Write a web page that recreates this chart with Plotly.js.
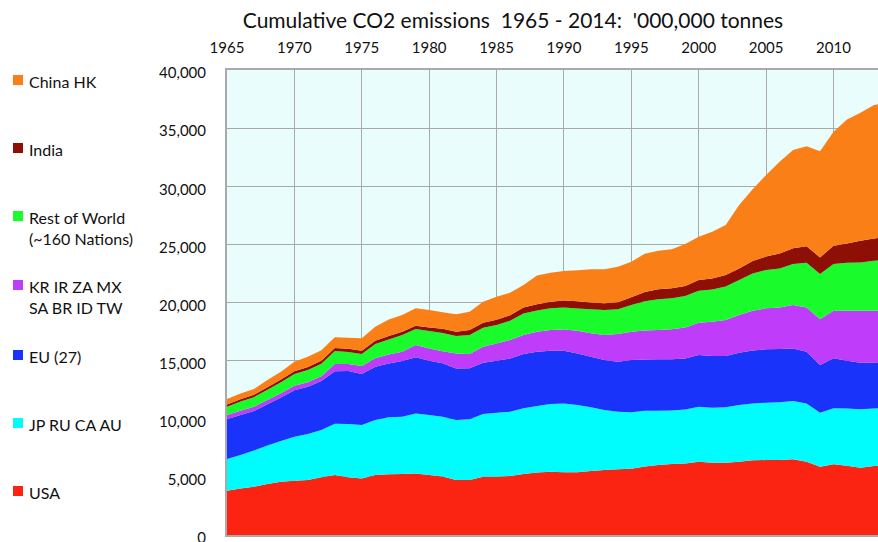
<!DOCTYPE html>
<html>
<head>
<meta charset="utf-8">
<script src="https://cdn.plot.ly/plotly-3.0.1.min.js"></script>
<style>html,body{margin:0;padding:0;background:#fff;}#chart{width:878px;height:542px;}</style>
</head>
<body>
<div id="chart"></div>
<script>
// ---- data ----
const years = [1965,1966,1967,1968,1969,1970,1971,1972,1973,1974,
  1975,1976,1977,1978,1979,1980,1981,1982,1983,1984,
  1985,1986,1987,1988,1989,1990,1991,1992,1993,1994,
  1995,1996,1997,1998,1999,2000,2001,2002,2003,2004,
  2005,2006,2007,2008,2009,2010,2011,2012,2013,2014];

const usa = [3810,4010,4160,4390,4590,4670,4730,4960,5160,4960,
  4870,5160,5220,5250,5300,5160,5040,4730,4730,5020,
  5020,5070,5250,5370,5450,5390,5390,5500,5590,5650,
  5700,5900,6020,6110,6160,6310,6220,6220,6310,6420,
  6450,6450,6510,6310,5880,6080,5960,5790,5930,6000];

const jpRuCaAu = [2730,2870,3100,3300,3500,3780,3960,4070,4420,4590,
  4590,4730,4900,4930,5160,5160,5140,5160,5220,5390,
  5500,5530,5650,5730,5820,5930,5790,5480,5160,4960,
  4850,4780,4670,4590,4640,4730,4730,4760,4870,4900,
  4930,4960,5010,5010,4640,4820,4930,5020,4960,4900];

const eu27 = [3410,3440,3410,3550,3730,4010,4070,4210,4500,4560,
  4390,4590,4640,4790,4820,4670,4590,4440,4390,4410,
  4470,4590,4670,4670,4590,4530,4440,4360,4300,4300,
  4500,4420,4420,4420,4390,4440,4440,4420,4500,4560,
  4590,4590,4530,4440,4100,4300,4100,4010,3930,3850];

const krGroup = [370,360,370,380,380,380,390,420,620,600,
  690,720,770,800,1060,1060,1040,1290,1230,1380,
  1490,1580,1630,1720,1780,1830,1950,2010,2150,2380,
  2440,2500,2520,2580,2670,2780,2950,3100,3240,3400,
  3530,3580,3730,3810,3930,4100,4300,4470,4470,4550];

const restOfWorld = [720,800,820,880,950,1000,1050,1080,1120,1030,
  1030,1230,1290,1430,1380,1490,1570,1490,1630,1630,
  1580,1660,1860,1830,1860,1890,1920,2060,2150,2120,
  2290,2500,2640,2670,2700,2750,2780,2870,3010,3220,
  3300,3350,3530,3840,3900,4010,4130,4160,4300,4350];

const india = [190,190,200,210,220,240,250,260,270,280,
  290,290,290,290,290,320,360,370,430,430,
  450,470,500,540,570,600,610,600,590,620,
  680,800,860,860,860,920,950,1000,1000,1080,
  1150,1290,1350,1430,1430,1580,1660,1860,1920,2000];

const chinaHK = [470,510,500,620,680,830,890,900,920,950,
  1060,1200,1430,1430,1490,1490,1420,1520,1580,1810,
  1990,1940,1940,2460,2490,2550,2680,2840,2910,3050,
  3040,3300,3330,3350,3610,3730,4010,4300,5450,6170,
  7020,7880,8460,8600,9140,9800,10660,11010,11470,11550];

const seriesNames = ['USA','JP RU CA AU','EU (27)','KR IR ZA MX<br>SA BR ID TW',
  'Rest of World<br>(~160 Nations)','India','China HK'];
const xTickVals = [1965,1970,1975,1980,1985,1990,1995,2000,2005,2010];
const titleText = "Cumulative CO2 emissions  1965 - 2014:  '000,000 tonnes";

// ---- styling ----
const seriesValues = [usa, jpRuCaAu, eu27, krGroup, restOfWorld, india, chinaHK];
const colors = ['#fb2413','#00fdfd','#1a33fb','#c03cfb','#19fb2b','#8e0f05','#fb7f17'];
const legendY = [493, 425, 357, 287, 218, 150, 82];

const FONT = 'Lato, "Open Sans", sans-serif';
const L = 227, T = 70, W = 878, H = 542, B = 7;
const PW = W - L, PH = H - T - B;
const p2x = px => (px - L) / PW;
const p2y = py => (H - B - py) / PH;

const traces = seriesValues.map((vals, i) => ({
  type: 'scatter', mode: 'none', x: years, y: vals,
  stackgroup: 'one', fillcolor: colors[i], name: seriesNames[i],
  hoverinfo: 'x+y+name'
}));

const annotations = [];
const shapes = [];
seriesNames.forEach((nm, i) => {
  annotations.push({
    xref: 'paper', yref: 'paper', x: p2x(27), y: p2y(legendY[i] - 12),
    xanchor: 'left', yanchor: 'top', align: 'left', showarrow: false,
    text: nm, font: {family: FONT, size: 16, color: '#111'}
  });
  shapes.push({
    type: 'rect', xref: 'paper', yref: 'paper',
    xsizemode: 'pixel', ysizemode: 'pixel',
    xanchor: p2x(13), yanchor: p2y(legendY[i] - 2),
    x0: 0, x1: 10, y0: -5, y1: 5,
    fillcolor: colors[i], line: {width: 0}
  });
});

const layout = {
  width: W, height: H,
  margin: {l: L, r: 0, t: T, b: B, pad: 0},
  paper_bgcolor: '#ffffff', plot_bgcolor: '#eafdfd',
  showlegend: false,
  font: {family: FONT, color: '#111'},
  title: {text: titleText, font: {family: FONT, size: 21, color: '#111'},
    xref: 'container', x: 513 / W, xanchor: 'center',
    yref: 'container', y: 1 - 21 / H, yanchor: 'middle'},
  xaxis: {side: 'top', range: [1965, 2013.3], tickvals: xTickVals,
    showgrid: true, gridcolor: '#a9a9a9', gridwidth: 1,
    showline: true, mirror: true, linecolor: '#aaaaaa', linewidth: 2,
    ticks: '', ticklabelstandoff: 9, zeroline: false,
    tickfont: {family: FONT, size: 15, color: '#111'}},
  yaxis: {range: [0, 40000], dtick: 5000, tickformat: ',d',
    showgrid: true, gridcolor: '#a9a9a9', gridwidth: 1,
    showline: true, mirror: true, linecolor: '#aaaaaa', linewidth: 2,
    ticks: '', ticklabelstandoff: 16, zeroline: false, ticklabelshift: 3,
    ticklabeloverflow: 'allow',
    tickfont: {family: FONT, size: 15, color: '#111'}},
  annotations: annotations,
  shapes: shapes
};

Plotly.newPlot('chart', traces, layout, {staticPlot: true});
</script>
</body>
</html>
